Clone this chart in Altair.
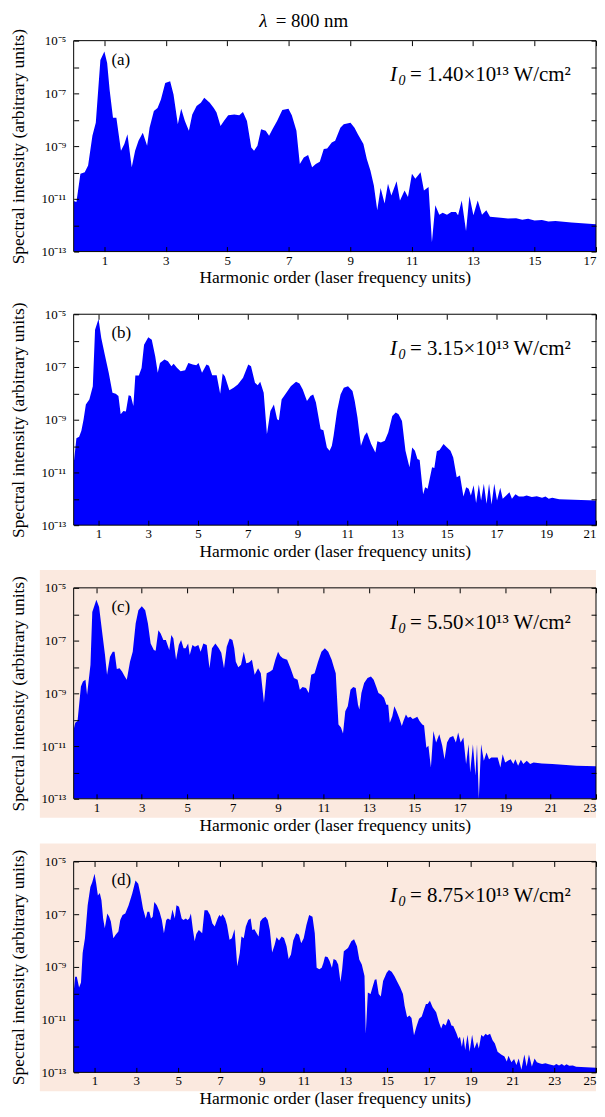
import altair as alt
import pandas as pd
import numpy as np

FONT = "Liberation Serif"
BLUE = "#0000FF"
PINK = "#FBE9DF"
W, H = 525, 212

spec_a = [
    (0.00, -11.08), (0.09, -11.12), (0.22, -10.05), (0.36, -9.99), (0.47, -9.74), (0.61, -8.61),
    (0.72, -8.11), (0.87, -5.73), (1.00, -5.41), (1.09, -5.85), (1.17, -6.86), (1.28, -7.92),
    (1.39, -7.92), (1.54, -9.18), (1.65, -8.92), (1.75, -8.55), (1.89, -9.80), (2.00, -9.18),
    (2.11, -8.80), (2.25, -8.49), (2.39, -8.99), (2.47, -8.30), (2.61, -7.67), (2.73, -7.55),
    (2.84, -7.23), (2.98, -6.61), (3.14, -6.54), (3.25, -7.04), (3.39, -8.17), (3.50, -7.58),
    (3.62, -8.05), (3.75, -8.42), (3.86, -7.80), (4.00, -7.48), (4.14, -7.36), (4.25, -7.17),
    (4.43, -7.36), (4.56, -7.55), (4.65, -7.73), (4.78, -8.24), (4.89, -8.05), (5.03, -7.83),
    (5.23, -7.80), (5.39, -7.83), (5.51, -7.71), (5.64, -8.05), (5.78, -9.05), (5.87, -9.18),
    (5.98, -8.99), (6.10, -8.36), (6.25, -8.42), (6.36, -8.61), (6.47, -8.36), (6.62, -8.05),
    (6.79, -7.63), (6.99, -7.58), (7.10, -7.83), (7.25, -8.42), (7.36, -9.68), (7.49, -9.43),
    (7.63, -9.34), (7.76, -9.80), (7.88, -9.68), (8.01, -9.59), (8.14, -9.11), (8.25, -9.09),
    (8.40, -8.86), (8.51, -8.80), (8.68, -8.30), (8.79, -8.17), (9.01, -8.11), (9.14, -8.30),
    (9.25, -8.55), (9.43, -8.92), (9.54, -9.49), (9.66, -9.93), (9.77, -10.49), (9.88, -11.43),
    (9.99, -10.59), (10.12, -11.18), (10.23, -10.43), (10.34, -10.87), (10.51, -10.33),
    (10.62, -11.06), (10.77, -10.68), (10.88, -10.93), (11.01, -10.05), (11.12, -10.24),
    (11.29, -9.99), (11.40, -10.68), (11.55, -10.55), (11.66, -12.65), (11.77, -11.24),
    (11.90, -11.60), (12.01, -11.53), (12.15, -11.60), (12.29, -11.50), (12.44, -11.50),
    (12.51, -11.62), (12.63, -11.06), (12.77, -12.22), (12.88, -10.89), (13.01, -11.62),
    (13.15, -11.06), (13.29, -11.60), (13.43, -11.43), (13.55, -11.68), (13.90, -11.72),
    (14.13, -11.75), (14.40, -11.74), (14.60, -11.79), (14.79, -11.76), (15.00, -11.82),
    (15.24, -11.80), (15.45, -11.86), (15.68, -11.84), (16.20, -11.90), (17.00, -11.96),
]

spec_b = [
    (0.00, -10.68), (0.11, -9.70), (0.22, -9.65), (0.31, -9.42), (0.40, -8.98), (0.49, -8.42),
    (0.63, -8.23), (0.77, -7.73), (0.86, -5.59), (1.00, -5.18), (1.11, -5.90), (1.25, -6.53),
    (1.41, -7.22), (1.56, -7.98), (1.69, -8.02), (1.80, -8.10), (1.89, -8.79), (2.00, -8.67),
    (2.10, -8.69), (2.21, -8.07), (2.30, -8.10), (2.40, -8.48), (2.48, -7.32), (2.62, -7.32),
    (2.73, -7.04), (2.83, -6.16), (3.00, -5.87), (3.14, -5.97), (3.28, -6.60), (3.38, -7.22),
    (3.47, -6.85), (3.65, -6.72), (3.79, -6.78), (3.93, -6.97), (4.02, -6.88), (4.16, -7.04),
    (4.30, -7.16), (4.48, -7.12), (4.61, -6.85), (4.79, -6.91), (4.93, -6.93), (5.02, -6.85),
    (5.16, -7.22), (5.34, -6.91), (5.44, -6.95), (5.57, -7.31), (5.75, -7.31), (5.89, -8.02),
    (5.99, -7.25), (6.08, -7.35), (6.26, -7.88), (6.43, -7.79), (6.60, -7.66), (6.81, -7.41),
    (7.02, -6.91), (7.13, -6.97), (7.29, -7.60), (7.40, -7.69), (7.50, -7.56), (7.64, -7.98),
    (7.77, -9.55), (7.91, -8.67), (8.05, -8.42), (8.18, -8.98), (8.25, -9.02), (8.36, -8.23),
    (8.55, -7.98), (8.73, -7.73), (8.94, -7.56), (9.08, -7.63), (9.21, -7.85), (9.38, -8.29),
    (9.52, -8.10), (9.63, -8.04), (9.74, -8.35), (9.93, -9.36), (10.04, -9.40), (10.18, -10.05),
    (10.29, -10.18), (10.38, -9.99), (10.45, -9.61), (10.59, -8.67), (10.73, -8.04),
    (10.86, -7.79), (11.03, -7.73), (11.21, -7.91), (11.30, -8.29), (11.41, -8.92),
    (11.55, -9.99), (11.69, -9.61), (11.79, -9.48), (11.96, -9.92), (12.13, -10.24),
    (12.21, -9.82), (12.35, -9.86), (12.51, -9.80), (12.65, -9.48), (12.81, -8.86),
    (12.95, -8.73), (13.06, -8.79), (13.20, -9.05), (13.34, -10.18), (13.50, -10.80),
    (13.61, -10.05), (13.72, -10.18), (13.82, -10.49), (13.91, -10.53), (14.05, -11.83),
    (14.13, -11.56), (14.23, -11.62), (14.41, -10.80), (14.50, -10.83), (14.60, -10.20),
    (14.71, -10.15), (14.87, -9.92), (14.98, -10.03), (15.15, -10.18), (15.26, -10.43),
    (15.40, -11.18), (15.53, -11.12), (15.67, -11.91), (15.78, -11.56), (15.88, -11.62),
    (15.97, -11.87), (16.08, -11.49), (16.18, -12.16), (16.29, -11.46), (16.38, -12.06),
    (16.49, -11.43), (16.60, -12.19), (16.70, -11.43), (16.80, -12.22), (16.91, -11.43),
    (17.02, -12.06), (17.15, -11.58), (17.25, -12.00), (17.39, -11.87), (17.52, -11.75),
    (17.62, -12.00), (17.76, -11.83), (17.90, -11.91), (18.08, -11.91), (18.21, -11.87),
    (18.42, -11.93), (18.62, -11.90), (18.83, -11.96), (18.97, -11.91), (19.10, -12.00),
    (19.24, -11.96), (19.52, -12.02), (21.00, -12.06),
]

spec_c = [
    (0.00, -10.37), (0.07, -10.12), (0.17, -10.05), (0.32, -8.74), (0.41, -8.55), (0.52, -8.49),
    (0.59, -9.05), (0.74, -7.92), (0.82, -5.92), (1.00, -5.45), (1.12, -5.73), (1.27, -6.79),
    (1.38, -7.55), (1.47, -8.30), (1.60, -7.61), (1.72, -7.42), (1.80, -7.42), (1.90, -8.08),
    (2.02, -8.05), (2.13, -8.17), (2.25, -8.36), (2.34, -8.49), (2.48, -7.80), (2.60, -7.42),
    (2.73, -6.35), (2.85, -5.85), (3.00, -5.70), (3.15, -5.85), (3.27, -6.35), (3.39, -7.11),
    (3.53, -7.36), (3.61, -7.39), (3.73, -6.61), (3.83, -6.73), (3.95, -6.98), (4.06, -6.98),
    (4.21, -7.36), (4.30, -6.79), (4.39, -6.92), (4.51, -7.73), (4.63, -7.17), (4.73, -6.98),
    (4.84, -7.29), (4.93, -7.29), (5.04, -7.11), (5.11, -7.55), (5.23, -7.17), (5.34, -7.23),
    (5.49, -7.17), (5.59, -7.42), (5.71, -7.11), (5.86, -7.17), (5.98, -8.05), (6.09, -7.29),
    (6.24, -7.11), (6.39, -7.29), (6.50, -7.46), (6.62, -8.05), (6.74, -7.23), (6.87, -6.92),
    (6.99, -6.98), (7.07, -7.29), (7.14, -7.80), (7.25, -8.01), (7.37, -7.92), (7.49, -7.42),
    (7.60, -7.86), (7.72, -7.83), (7.85, -7.73), (7.97, -8.30), (8.12, -8.05), (8.24, -8.24),
    (8.38, -9.36), (8.50, -8.24), (8.65, -8.17), (8.76, -8.11), (8.88, -7.73), (9.00, -7.42),
    (9.10, -7.58), (9.21, -7.67), (9.40, -7.73), (9.55, -8.05), (9.70, -8.42), (9.86, -8.49),
    (9.96, -8.86), (10.08, -8.76), (10.23, -8.80), (10.35, -8.99), (10.46, -8.30),
    (10.61, -8.24), (10.76, -7.80), (10.91, -7.42), (11.06, -7.29), (11.21, -7.42),
    (11.36, -7.73), (11.47, -8.05), (11.54, -8.24), (11.66, -10.18), (11.77, -10.30),
    (11.86, -10.52), (11.96, -9.68), (12.07, -9.49), (12.19, -8.86), (12.31, -8.76),
    (12.42, -8.80), (12.52, -9.43), (12.58, -9.61), (12.67, -8.99), (12.79, -8.61),
    (12.94, -8.42), (13.09, -8.36), (13.21, -8.49), (13.32, -8.74), (13.42, -8.99),
    (13.55, -9.05), (13.67, -9.18), (13.77, -9.43), (13.85, -9.43), (13.92, -10.12),
    (14.03, -9.87), (14.12, -9.49), (14.22, -9.68), (14.33, -9.93), (14.45, -10.24),
    (14.52, -10.05), (14.63, -9.80), (14.72, -9.93), (14.83, -9.89), (14.93, -9.97),
    (15.05, -9.93), (15.13, -9.89), (15.23, -10.05), (15.35, -10.18), (15.43, -10.22),
    (15.53, -11.06), (15.62, -10.99), (15.73, -11.81), (15.84, -10.43), (15.96, -10.87),
    (16.10, -10.55), (16.23, -10.99), (16.33, -11.50), (16.44, -10.87), (16.56, -10.68),
    (16.71, -10.62), (16.83, -10.87), (16.93, -10.49), (17.04, -10.87), (17.16, -10.68),
    (17.28, -11.68), (17.39, -10.93), (17.46, -12.00), (17.58, -10.93), (17.69, -12.12),
    (17.76, -10.93), (17.84, -13.00), (17.94, -10.93), (18.06, -11.56), (18.18, -11.24),
    (18.29, -11.50), (18.39, -11.43), (18.54, -11.43), (18.67, -11.43), (18.79, -11.81),
    (18.89, -11.31), (19.00, -11.62), (19.12, -11.56), (19.24, -11.50), (19.36, -11.68),
    (19.45, -11.50), (19.57, -11.75), (19.69, -11.52), (19.80, -11.68), (19.95, -11.56),
    (20.10, -11.68), (20.25, -11.62), (20.62, -11.66), (21.08, -11.68), (21.53, -11.71),
    (22.13, -11.75), (23.00, -11.77),
]

spec_d = [
    (0.00, -9.97), (0.07, -9.37), (0.15, -9.37), (0.26, -9.78), (0.35, -9.59), (0.43, -8.47),
    (0.54, -7.91), (0.67, -6.66), (0.80, -5.97), (0.89, -5.79), (1.00, -5.47), (1.08, -5.85),
    (1.16, -6.29), (1.25, -6.20), (1.33, -6.47), (1.41, -7.16), (1.49, -7.53), (1.61, -6.97),
    (1.70, -7.10), (1.78, -7.28), (1.90, -7.91), (2.01, -7.78), (2.14, -7.66), (2.23, -7.22),
    (2.34, -7.03), (2.47, -6.97), (2.63, -6.66), (2.80, -6.22), (2.96, -5.72), (3.09, -5.85),
    (3.21, -6.29), (3.32, -6.79), (3.45, -7.16), (3.53, -6.91), (3.62, -6.91), (3.70, -7.16),
    (3.78, -7.10), (3.86, -6.54), (3.98, -6.66), (4.11, -6.91), (4.22, -7.22), (4.32, -7.72),
    (4.43, -7.22), (4.51, -7.16), (4.63, -7.22), (4.73, -6.82), (4.84, -7.16), (4.92, -6.66),
    (5.04, -6.72), (5.17, -7.16), (5.25, -7.22), (5.37, -7.16), (5.45, -7.22), (5.53, -7.16),
    (5.61, -6.97), (5.71, -7.60), (5.79, -8.03), (5.87, -7.75), (5.99, -7.60), (6.07, -7.66),
    (6.15, -7.72), (6.26, -6.85), (6.40, -6.85), (6.53, -7.03), (6.64, -7.35), (6.75, -7.47),
    (6.89, -7.16), (6.97, -7.03), (7.05, -7.10), (7.13, -7.00), (7.25, -7.16), (7.34, -7.41),
    (7.46, -7.97), (7.57, -7.91), (7.70, -7.57), (7.83, -8.97), (7.95, -8.47), (8.03, -7.85),
    (8.14, -7.91), (8.24, -7.47), (8.36, -7.22), (8.47, -7.16), (8.55, -7.60), (8.65, -7.57),
    (8.76, -7.72), (8.85, -7.85), (8.93, -7.28), (9.04, -7.16), (9.18, -7.10), (9.29, -7.22),
    (9.39, -7.60), (9.50, -8.45), (9.62, -8.16), (9.71, -7.87), (9.83, -8.00), (9.96, -7.85),
    (10.07, -7.91), (10.19, -8.22), (10.29, -8.70), (10.40, -8.53), (10.51, -8.00),
    (10.65, -7.72), (10.78, -7.78), (10.89, -8.10), (11.01, -7.91), (11.14, -7.41),
    (11.27, -7.03), (11.43, -7.10), (11.54, -7.72), (11.63, -9.03), (11.76, -9.09),
    (11.87, -9.03), (11.95, -8.85), (12.03, -8.60), (12.15, -8.62), (12.25, -8.78),
    (12.36, -9.03), (12.44, -8.70), (12.56, -8.75), (12.66, -8.91), (12.77, -9.57),
    (12.85, -9.09), (12.93, -8.41), (13.13, -8.28), (13.29, -8.03), (13.42, -7.95),
    (13.56, -8.22), (13.67, -8.72), (13.79, -8.91), (13.92, -9.34), (13.98, -11.53),
    (14.08, -9.97), (14.21, -10.03), (14.32, -9.72), (14.41, -9.49), (14.49, -9.47),
    (14.60, -10.03), (14.70, -10.12), (14.81, -9.53), (14.98, -9.22), (15.09, -9.12),
    (15.22, -9.18), (15.35, -9.34), (15.47, -9.53), (15.63, -9.78), (15.76, -10.03),
    (15.84, -10.47), (15.96, -10.91), (16.07, -10.84), (16.17, -10.94), (16.29, -11.59),
    (16.40, -11.28), (16.53, -10.97), (16.66, -10.88), (16.78, -10.59), (16.86, -10.41),
    (16.94, -10.41), (17.05, -10.28), (17.18, -10.53), (17.35, -10.72), (17.48, -11.09),
    (17.59, -11.34), (17.68, -11.15), (17.81, -11.22), (17.92, -10.97), (18.00, -11.03),
    (18.08, -11.22), (18.17, -11.24), (18.33, -11.53), (18.41, -11.72), (18.49, -11.65),
    (18.58, -12.03), (18.66, -11.65), (18.74, -12.15), (18.85, -11.57), (18.95, -12.22),
    (19.07, -11.57), (19.18, -12.09), (19.31, -11.84), (19.39, -12.09), (19.51, -11.57),
    (19.60, -11.65), (19.72, -11.53), (19.80, -11.59), (19.93, -11.53), (20.05, -11.78),
    (20.16, -11.90), (20.29, -12.22), (20.46, -12.32), (20.62, -12.40), (20.73, -12.59),
    (20.81, -12.37), (20.95, -12.62), (21.08, -12.49), (21.19, -12.72), (21.30, -12.47),
    (21.43, -12.90), (21.57, -12.32), (21.68, -12.78), (21.79, -12.32), (21.93, -12.78),
    (22.06, -12.47), (22.17, -12.62), (22.29, -12.65), (22.42, -12.68), (22.58, -12.65),
    (22.74, -12.69), (22.99, -12.74), (23.10, -12.68), (23.23, -12.74), (23.36, -12.68),
    (23.48, -12.75), (23.59, -12.69), (23.72, -12.75), (23.89, -12.74), (24.05, -12.79),
    (25.00, -12.82),
]

panel_tags = ["(a)", "(b)", "(c)", "(d)"]
panel_xmax = [17, 21, 23, 25]
panel_intensity = ["= 1.40×10¹³ W/cm²", "= 3.15×10¹³ W/cm²",
                   "= 5.50×10¹³ W/cm²", "= 8.75×10¹³ W/cm²"]
panel_pink = [False, False, True, True]
panel_specs = [spec_a, spec_b, spec_c, spec_d]

y_tick_values = [1e-5, 1e-6, 1e-7, 1e-8, 1e-9, 1e-10, 1e-11, 1e-12, 1e-13]
y_tick_labels = ["10⁻⁵", "", "10⁻⁷", "", "10⁻⁹", "", "10⁻¹¹", "", "10⁻¹³"]
label_expr = "[" + ",".join("'%s'" % s for s in y_tick_labels) + "][round(-log(datum.value)/LN10) - 5]"

X_TITLE = "Harmonic order (laser frequency units)"
Y_TITLE = "Spectral intensity (arbitrary units)"

tick_style = dict(grid=False, domain=False, ticks=True, tickSize=5, tickColor="black",
                  tickWidth=1, offset=-5, zindex=1, minExtent=0, labelFont=FONT,
                  labelFontSize=13, labelColor="black", titleFont=FONT, titleFontSize=17.5,
                  titleFontWeight="normal", titleColor="black")


def one(**kw):
    return pd.DataFrame([kw]) if kw else pd.DataFrame([{"k": 0}])


def text_layer(txt, x, y, size, italic=False, align="left", baseline="alphabetic"):
    return alt.Chart(one(t=txt)).mark_text(
        font=FONT, fontSize=size, fontStyle="italic" if italic else "normal",
        align=align, baseline=baseline, color="black"
    ).encode(text="t:N", x=alt.value(x), y=alt.value(y))


def make_panel(i):
    spec = panel_specs[i]
    xmax = panel_xmax[i]
    df = pd.DataFrame({"h": [p[0] for p in spec],
                       "I": np.power(10.0, [p[1] for p in spec])})
    xs = alt.Scale(domain=[0, xmax], nice=False, zero=False)
    ys = alt.Scale(type="log", domain=[1e-13, 1e-5], nice=False)
    xt = list(range(1, xmax + 1, 2))
    base = alt.Chart(df)
    area = base.mark_area(color=BLUE, opacity=1, clip=True, interpolate="linear").encode(
        x=alt.X("h:Q", scale=xs, axis=alt.Axis(
            values=xt, format="d", orient="bottom", title=X_TITLE, labelPadding=2.5,
            titlePadding=2, labelFlush=True, labelOverlap=False, **tick_style)),
        y=alt.Y("I:Q", scale=ys, axis=alt.Axis(
            values=y_tick_values, labelExpr=label_expr, orient="left", title=Y_TITLE,
            labelPadding=8, titlePadding=14, labelFlush=False, labelOverlap=False,
            **tick_style)),
        y2=alt.datum(1e-13),
    )
    mirror = base.mark_area(opacity=0, clip=True).encode(
        x=alt.X("h:Q", scale=xs, axis=alt.Axis(
            values=xt, orient="top", labels=False, title=None, **tick_style)),
        y=alt.Y("I:Q", scale=ys, axis=alt.Axis(
            values=y_tick_values, orient="right", labels=False, title=None, **tick_style)),
        y2=alt.datum(1e-13),
    )
    frame = alt.Chart(one()).mark_rect(filled=False, color="black", strokeWidth=1).encode(
        x=alt.value(0), x2=alt.value(W), y=alt.value(0), y2=alt.value(H))
    layers = []
    if panel_pink[i]:
        layers.append(alt.Chart(one()).mark_rect(color=PINK).encode(
            x=alt.value(-34), x2=alt.value(W), y=alt.value(-18), y2=alt.value(H + 19)))
    layers += [area, mirror, frame,
               text_layer(panel_tags[i], 38, 19, 17, baseline="middle"),
               text_layer("I", 318, 41, 21, italic=True),
               text_layer("0", 326.5, 45, 14, italic=True),
               text_layer(panel_intensity[i], 338, 41, 21)]
    if i == 0:
        layers += [text_layer("λ", 186.5, -14, 19, italic=True),
                   text_layer("= 800 nm", 203, -14, 19)]
    return alt.layer(*layers).resolve_axis(x="independent", y="independent").properties(
        width=W, height=H)


chart = alt.vconcat(*[make_panel(i) for i in range(4)], spacing=63, bounds="flush").properties(
    padding=0,
).configure_view(stroke="transparent")

chart.save("out.html", embed_options={"renderer": "svg", "actions": False})
